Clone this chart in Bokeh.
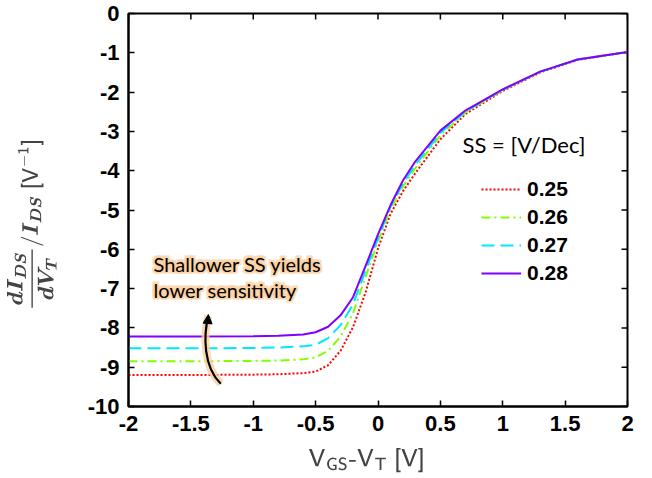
import math
from bokeh.plotting import figure
from bokeh.models import (Range1d, FixedTicker, Label, Legend, LegendItem,
                          Arrow, NormalHead)
from bokeh.embed import file_html
from bokeh.resources import INLINE

# ---------------- data ----------------
x_vals = [-2.0, -1.5, -1.0, -0.8, -0.6, -0.5, -0.4, -0.3, -0.2, -0.1,
          0.0, 0.1, 0.2, 0.3, 0.5, 0.7, 1.0, 1.3, 1.6, 2.0]
ss_labels = ["0.25", "0.26", "0.27", "0.28"]
y_025 = [-9.20, -9.20, -9.19, -9.18, -9.15, -9.11, -8.95, -8.58, -7.98, -7.10,
         -5.98, -5.10, -4.52, -4.06, -3.20, -2.56, -1.97, -1.50, -1.18, -0.98]
y_026 = [-8.85, -8.85, -8.84, -8.83, -8.80, -8.75, -8.58, -8.22, -7.63, -6.70,
         -5.80, -4.98, -4.40, -3.93, -3.10, -2.52, -1.95, -1.49, -1.17, -0.98]
y_027 = [-8.52, -8.52, -8.51, -8.50, -8.47, -8.43, -8.26, -7.93, -7.40, -6.55,
         -5.72, -4.92, -4.33, -3.85, -3.04, -2.50, -1.94, -1.48, -1.17, -0.98]
y_028 = [-8.22, -8.22, -8.21, -8.20, -8.17, -8.11, -7.97, -7.68, -7.22, -6.43,
         -5.62, -4.88, -4.25, -3.76, -2.98, -2.47, -1.93, -1.48, -1.17, -0.98]
series = [y_025, y_026, y_027, y_028]

x_ticks = [-2, -1.5, -1, -0.5, 0, 0.5, 1, 1.5, 2]
x_tick_labels = ["-2", "-1.5", "-1", "-0.5", "0", "0.5", "1", "1.5", "2"]
y_ticks = [-10, -9, -8, -7, -6, -5, -4, -3, -2, -1, 0]
y_tick_labels = ["-10", "-9", "-8", "-7", "-6", "-5", "-4", "-3", "-2", "-1", "0"]

annotation_lines = ["Shallower SS yields", "lower sensitivity"]
legend_title = "SS = [V/Dec]"

# arrow path (start, control1, control2, end)
arrow_pts = [(-1.26, -9.42), (-1.40, -9.0), (-1.40, -8.2), (-1.36, -7.70)]

# ---------------- styles ----------------
colors = ["#ff0000", "#80ff00", "#00e8ff", "#8000ff"]
dashes = ["2 2", "9 4 2 4", "13 6", "solid"]
TICK_FONT = "Liberation Sans"
TEXT_FONT = "Lato"

p = figure(width=652, height=478, x_range=Range1d(-2, 2), y_range=Range1d(-10, 0),
           output_backend="svg", toolbar_location=None,
           min_border_left=128, min_border_right=25, min_border_top=13, min_border_bottom=72)
p.grid.visible = False
p.outline_line_color = "black"
p.outline_line_width = 2
p.background_fill_color = "white"
p.border_fill_color = "white"

def style_axis(ax, ticks, labels):
    ax.ticker = FixedTicker(ticks=ticks)
    ax.major_label_overrides = {t: l for t, l in zip(ticks, labels)}
    ax.axis_line_color = "black"
    ax.axis_line_width = 2
    ax.major_tick_in = 6
    ax.major_tick_out = 0
    ax.major_tick_line_width = 1.5
    ax.minor_tick_line_color = None
    ax.major_label_text_font = TICK_FONT
    ax.major_label_text_font_style = "bold"
    ax.major_label_text_font_size = "22px"
    ax.major_label_text_color = "black"

style_axis(p.xaxis[0], x_ticks, x_tick_labels)
style_axis(p.yaxis[0], y_ticks, y_tick_labels)
p.xaxis[0].major_label_standoff = 9
p.yaxis[0].major_label_standoff = 9

p.xaxis[0].axis_label = r"$$\mathsf{V_{GS}\text{-}V_{T}\ [V]}\hspace{0.9em}$$"
p.xaxis[0].axis_label_text_font_size = "21px"
p.xaxis[0].axis_label_standoff = 14
p.yaxis[0].axis_label = (r"$$\boldsymbol{\frac{dI_{DS}}{dV_{T}}/I_{DS}}\;"
                         r"\mathsf{[V^{-1}]}\hspace{1.3em}$$")
p.yaxis[0].axis_label_text_font_size = "18px"
p.yaxis[0].axis_label_standoff = 28

# mirrored inward ticks on top and right edges
p.ray(x=x_ticks, y=[y_ticks[-1]] * len(x_ticks), length=6, length_units="screen",
      angle=-math.pi / 2, line_color="black", line_width=1.5)
p.ray(x=[x_ticks[-1]] * len(y_ticks), y=y_ticks, length=6, length_units="screen",
      angle=math.pi, line_color="black", line_width=1.5)

# ---------------- curves ----------------
items = []
for ys, c, d, lab in zip(series, colors, dashes, ss_labels):
    r = p.line(x_vals, ys, line_color=c, line_width=2, line_dash=d)
    items.append(LegendItem(label=lab, renderers=[r]))

legend = Legend(items=items, location=(353, 121), orientation="vertical",
                glyph_width=40, glyph_height=24, label_height=24, label_standoff=6,
                spacing=4, padding=0, margin=0,
                border_line_color=None, background_fill_alpha=0,
                label_text_font=TICK_FONT, label_text_font_style="bold",
                label_text_font_size="21px", label_text_color="black")
p.add_layout(legend, "center")

p.add_layout(Label(x=334, y=262, x_units="screen", y_units="screen", text=legend_title,
                   text_font=TEXT_FONT, text_font_size="22px", text_baseline="middle",
                   text_color="black"))

# ---------------- annotation ----------------
glow = "#fbcf9f"
(sx0, sy0), (cx0, cy0), (cx1, cy1), (ex, ey) = arrow_pts
p.bezier(x0=[sx0], y0=[sy0], x1=[ex], y1=[ey], cx0=[cx0], cy0=[cy0], cx1=[cx1], cy1=[cy1],
         line_color=glow, line_width=8, line_alpha=0.8)
p.bezier(x0=[sx0], y0=[sy0], x1=[ex], y1=[ey], cx0=[cx0], cy0=[cy0], cx1=[cx1], cy1=[cy1],
         line_color="black", line_width=2.2)
p.add_layout(Arrow(end=NormalHead(size=9, fill_color="black", line_color="black"),
                   x_start=-1.365, y_start=-7.85, x_end=-1.36, y_end=-7.66,
                   line_color="black", line_width=2))

glow_offsets = [(-1.5, -1.5), (1.5, -1.5), (-1.5, 1.5), (1.5, 1.5)]
for txt, yy in zip(annotation_lines, [143, 117]):
    # soft glow layers underneath, then the crisp text on top
    for dx, dy in glow_offsets:
        p.add_layout(Label(x=25, y=yy, x_units="screen", y_units="screen", text=txt,
                           x_offset=dx, y_offset=dy,
                           text_font=TEXT_FONT, text_font_size="20px", text_baseline="middle",
                           text_color=glow, text_outline_color=glow, text_alpha=0.55))
    p.add_layout(Label(x=25, y=yy, x_units="screen", y_units="screen", text=txt,
                       text_font=TEXT_FONT, text_font_size="20px", text_baseline="middle",
                       text_color="black"))

open("out.html", "w").write(file_html(p, INLINE))
